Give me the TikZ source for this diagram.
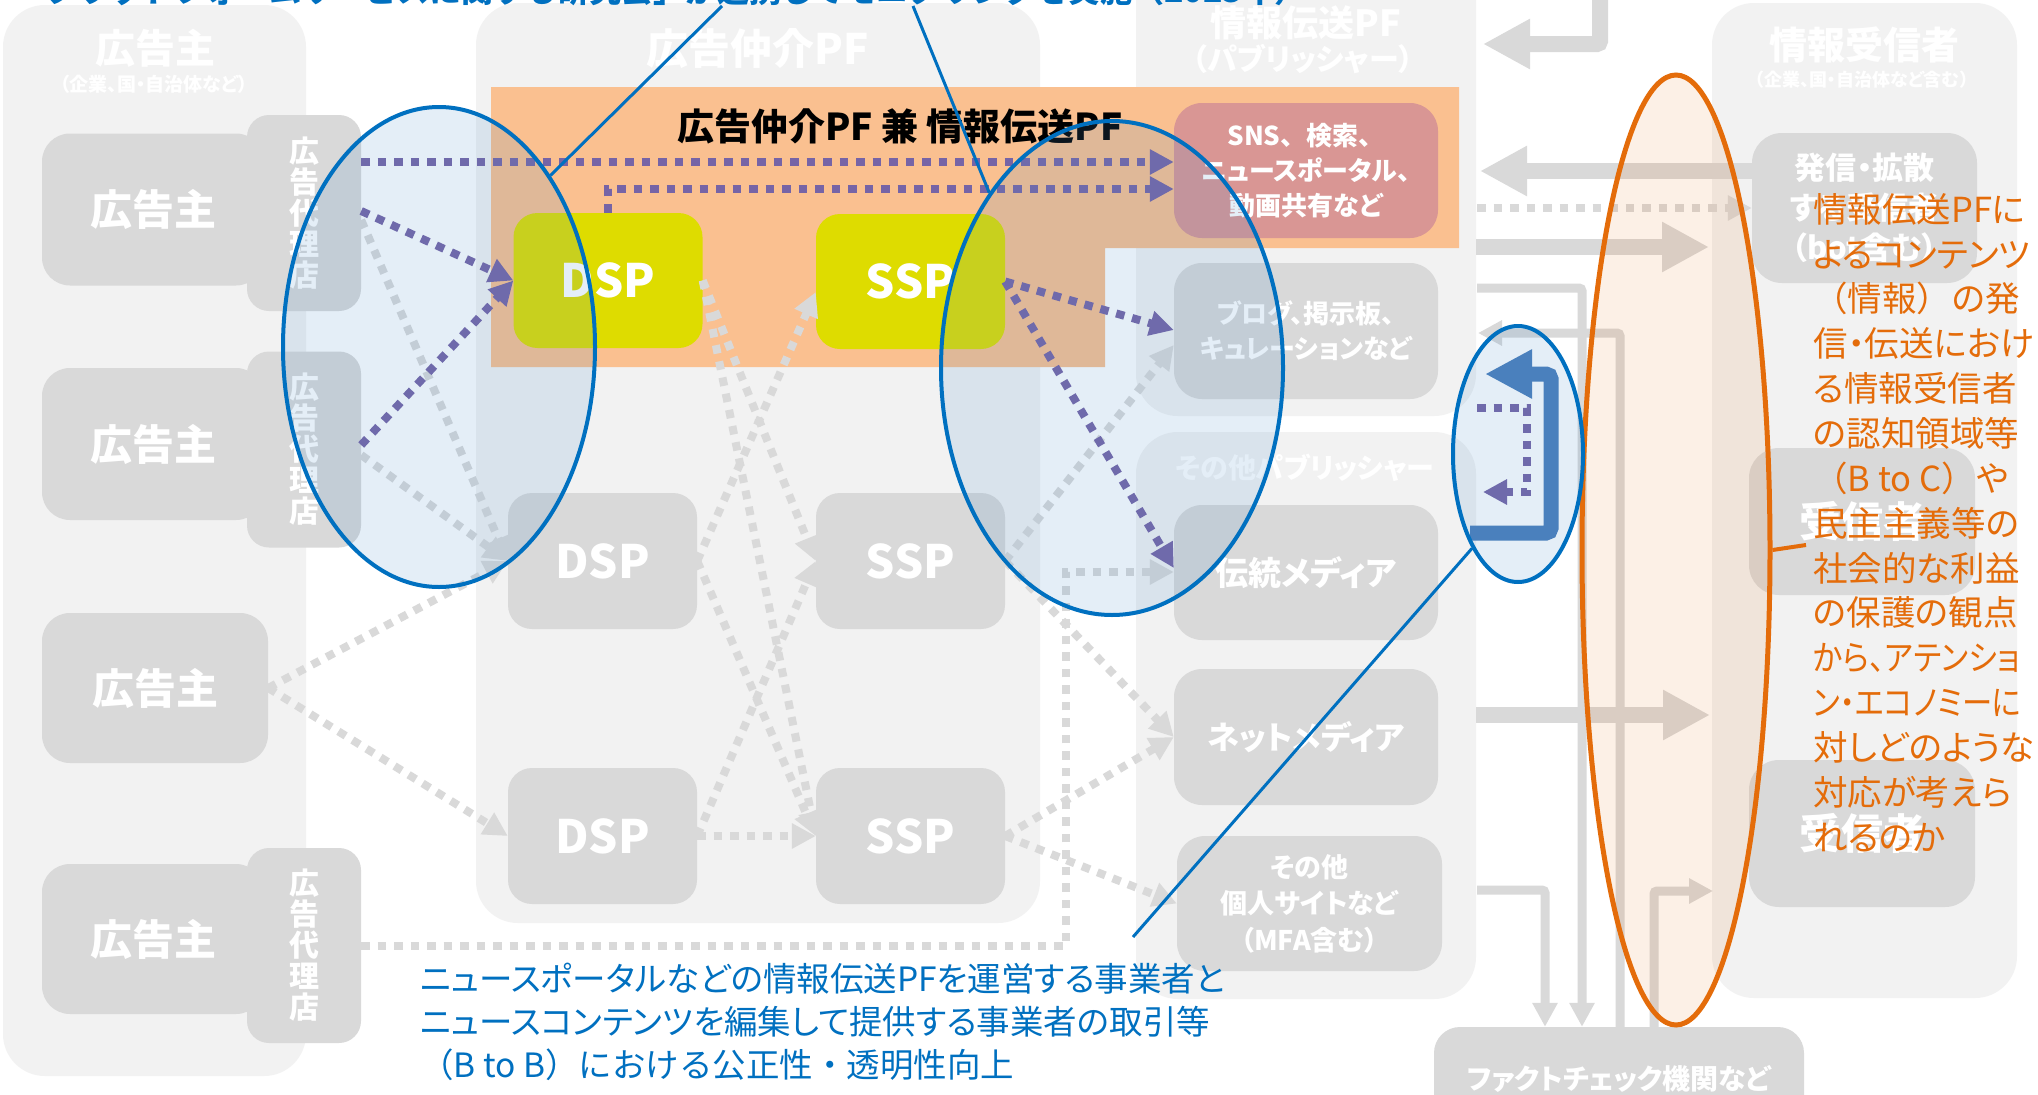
\documentclass[tikz,border=0pt]{standalone}
\usepackage{fontspec}
\setmainfont{Noto Sans CJK JP}[RawFeature={+palt}]
\newfontfamily\jpfull{Noto Sans CJK JP}
\usetikzlibrary{arrows.meta,shapes.geometric}
\newcommand\jfs[2]{\fontsize{#1}{#2}\selectfont}
\definecolor{panelgray}{HTML}{F2F2F2}
\definecolor{boxgray}{HTML}{D9D9D9}
\definecolor{dspyellow}{HTML}{DEDC00}
\definecolor{peach}{HTML}{FAC090}
\definecolor{snspink}{HTML}{D99694}
\definecolor{lineblue}{HTML}{0070C0}
\definecolor{ellblue}{HTML}{4B8ECA}
\definecolor{purp}{HTML}{7664A6}
\definecolor{arrblue}{HTML}{4A7EBB}
\definecolor{orng}{HTML}{E46C0A}
\begin{document}
\begin{tikzpicture}[x=1pt,y=-1pt,
 panel/.style={fill=panelgray,rounded corners=42pt},
 gbox/.style={fill=boxgray,rounded corners=26pt,inner sep=0pt,text=white,align=center},
 adv/.style={gbox,rounded corners=28pt,minimum width=222pt,minimum height=152pt,font=\bfseries\jfs{42}{42}},
 tabbox/.style={gbox,rounded corners=22pt,minimum width=114pt,minimum height=196pt,font=\bfseries\jfs{30}{31}},
 ybox/.style={gbox,fill=dspyellow,rounded corners=24pt,minimum width=189pt,minimum height=135pt,font=\bfseries\jfs{46}{46}},
 pbox/.style={gbox,rounded corners=24pt,minimum width=189pt,minimum height=136pt,font=\bfseries\jfs{46}{46}},
 pubbox/.style={gbox,rounded corners=28pt,minimum width=264pt,minimum height=136pt},
 rbox/.style={gbox,rounded corners=30pt,minimum width=226pt,minimum height=148pt},
 ttl/.style={text=white,inner sep=0pt,align=center},
 dotline/.style={line width=8pt,dash pattern=on 8.5pt off 8pt,-{Triangle[length=24pt,width=24pt]}},
 gdot/.style={dotline,draw=boxgray},
 pdot/.style={dotline,draw=purp},
 garrow/.style={draw=boxgray,line width=16pt,-{Triangle[length=47pt,width=47pt]}},
 gthin/.style={draw=boxgray,line width=9pt,rounded corners=3pt,-{Triangle[length=24pt,width=24pt]}},
 barrow/.style={draw=arrblue,line width=15pt,rounded corners=5pt,-{Triangle[length=47pt,width=46pt]}},
 ell/.style={ellipse,draw=lineblue,line width=4pt,fill=ellblue,fill opacity=0.15,inner sep=0pt},
 oell/.style={ellipse,draw=orng,line width=5pt,fill=orng,fill opacity=0.1,inner sep=0pt},
 aline/.style={draw=lineblue,line width=3pt},
]
\useasboundingbox (0,0) rectangle (2038,1095);
\clip (0,0) rectangle (2038,1095);
\fill[white] (0,0) rectangle (2038,1095);

% ---------- panels ----------
\fill[panel] (3,5) rectangle (306,1076);
\fill[panel] (476,3) rectangle (1040,923);
\fill[panel] (1136,-50) rectangle (1476,416);
\fill[panel] (1136,432) rectangle (1476,999);
\fill[panel] (1712,3) rectangle (2017,998);

\node[ttl,font=\bfseries\jfs{40}{40}] (hA) at (155,48) {広告主};
\node[ttl,font=\bfseries\jfs{19}{19}] (hAs) at (154,84) {（企業、国・自治体など）};
\node[ttl,font=\bfseries\jfs{42}{42}] (hB) at (758,48) {広告仲介PF};
\node[ttl,font=\bfseries\jfs{36}{36}] (hC) at (1306,23) {情報伝送PF};
\node[ttl,font=\bfseries\jfs{30}{30}] (hCs) at (1303,59) {（パブリッシャー）};
\node[ttl,font=\bfseries\jfs{28}{28}] (hD) at (1305,468) {その他パブリッシャー};
\node[ttl,font=\bfseries\jfs{38}{38}] (hE) at (1864,45) {情報受信者};
\node[ttl,font=\bfseries\jfs{18}{18}] (hEs) at (1862,80) {（企業、国・自治体など含む）};

% ---------- orange region ----------
\fill[peach] (491,87) -- (1459,87) -- (1459,248) -- (1105,248) -- (1105,367) -- (491,367) -- cycle;
\node[inner sep=0pt,font=\bfseries\jfs{37}{37}] (hO) at (900,126) {広告仲介PF 兼 情報伝送PF};

% ---------- advertisers ----------
\node[adv] (a1) at (153,209.5) {広告主};
\node[tabbox] (t1) at (304,213) {広\\告\\代\\理\\店};
\node[adv] (a2) at (153,444) {広告主};
\node[tabbox] (t2) at (304,449.5) {広\\告\\代\\理\\店};
\node[adv,minimum width=226pt,minimum height=150pt] (a3) at (155,688) {広告主};
\node[adv,minimum height=150pt] (a4) at (153,939) {広告主};
\node[tabbox,minimum height=195pt] (t4) at (304,945.5) {広\\告\\代\\理\\店};

% ---------- DSP / SSP ----------
\node[ybox] (d1) at (608,280.5) {DSP};
\node[ybox] (s1) at (910.5,281.5) {SSP};
\node[pbox] (d2) at (602.5,561) {DSP};
\node[pbox] (s2) at (910.5,561) {SSP};
\node[pbox] (d3) at (602.5,836) {DSP};
\node[pbox] (s3) at (910.5,836) {SSP};

% ---------- publishers ----------
\node[pubbox,fill=snspink,minimum height=135pt,font=\bfseries\jfs{26}{35}] (sns) at (1306,170.5) {SNS{\jpfull 、}検索{\jpfull 、}\\ニュースポータル、\\動画共有など};
\node[pubbox,font=\bfseries\jfs{26}{35}] (blog) at (1306,331) {ブログ、掲示板、\\キュレーションなど};
\node[pubbox,minimum height=135pt,font=\bfseries\jfs{33}{33}] (trad) at (1306,572.5) {伝統メディア};
\node[pubbox,font=\bfseries\jfs{32}{32}] (net) at (1306,737) {ネットメディア};
\node[pubbox,minimum width=265pt,minimum height=135pt,font=\bfseries\jfs{27}{36.5}] (oth) at (1309.5,903.5) {その他\\個人サイトなど\\（MFA含む）};

% ---------- receivers ----------
\node[rbox,minimum width=225pt,minimum height=150pt,font=\bfseries\jfs{31}{40}] (hs) at (1864.5,208) {発信・拡散\\する受信者\\（bot含む）};
\node[rbox,minimum height=147pt,font=\bfseries\jfs{42}{42}] (r2) at (1862,521.5) {受信者};
\node[rbox,minimum height=147pt,font=\bfseries\jfs{42}{42}] (r3) at (1862,833.5) {受信者};
\node[gbox,minimum width=370pt,minimum height=103pt,font=\bfseries\jfs{28}{28}] (fc) at (1619,1078.5) {ファクトチェック機関など};

% ---------- coordinates ----------
\coordinate (ga0) at (1600,-20);
\coordinate (ga1) at (1600,44);
\coordinate (ga2) at (1483,44);
\coordinate (gb1) at (1480,171);
\coordinate (gc0) at (1476,247);
\coordinate (gc1) at (1709,247);
\coordinate (gd0) at (1477,208);
\coordinate (ge0) at (1476,715);
\coordinate (ge1) at (1710,715);
\coordinate (gf0) at (1477,288);
\coordinate (gg0) at (1477,890);
\coordinate (gh1) at (1478,333);
\coordinate (gi1) at (1713,891);
\coordinate (gk1) at (1066,946);
\coordinate (gk2) at (1066,572);
\coordinate (pd0) at (1477,408);
\coordinate (pd1) at (1527,408);
\coordinate (pd2) at (1527,492);
\coordinate (pd3) at (1483,492);
\coordinate (ba0) at (1470,533);
\coordinate (ba1) at (1551,533);
\coordinate (ba2) at (1551,374);
\coordinate (ba3) at (1485,374);

% ---------- gray dotted ----------
\draw[gdot] (t1.east |- 0,220) -- (d2.west);
\draw[gdot] (t2.east |- 0,455) -- (d2.west);
\draw[gdot] (a3.east) -- (d2.west);
\draw[gdot] (a3.east) -- (d3.west);
\draw[gdot] (t4.east |- 0,946) -- (gk1) -- (gk2) -- (trad.west |- 0,572);
\draw[gdot] (d1.east) -- (s2.west);
\draw[gdot] (d1.east) -- (s3.west);
\draw[gdot] (d2.east) -- (s1.west |- 0,292);
\draw[gdot] (d2.east) -- (s3.west);
\draw[gdot] (d3.east) -- (s2.west);
\draw[gdot] (d3.east) -- (s3.west);
\draw[gdot] (s2.east) -- (blog.west |- 0,345);
\draw[gdot] (s2.east) -- (net.west);
\draw[gdot] (s3.east) -- (net.west);
\draw[gdot] (s3.east) -- (oth.west);
\draw[gdot] (gd0) -- (hs.west |- 0,208);

% ---------- gray solid arrows ----------
\draw[garrow,rounded corners=3pt] (ga0) -- (ga1) -- (ga2);
\draw[garrow] (hs.west |- 0,171) -- (gb1);
\draw[garrow] (gc0) -- (gc1);
\draw[garrow] (ge0) -- (ge1);
\draw[gthin] (gf0) -| (fc.north -| 1582,0);
\draw[gthin] (gg0) -| (fc.north -| 1545,0);
\draw[gthin] (fc.north -| 1620,0) |- (gh1);
\draw[gthin] (fc.north -| 1654,0) |- (gi1);

% ---------- purple ----------
\draw[pdot] (t1.east |- 0,162) -- (sns.west |- 0,162);
\draw[pdot] (d1.north) |- (sns.west |- 0,189);
\draw[pdot] (t1.east |- 0,211) -- (d1.west);
\draw[pdot] (t2.east |- 0,445) -- (d1.west);
\draw[pdot] (s1.east) -- (blog.west |- 0,330);
\draw[pdot] (s1.east) -- (trad.west |- 0,568);
\draw[barrow] (ba0) -- (ba1) -- (ba2) -- (ba3);
\draw[pdot] (pd0) -- (pd1) -- (pd2) -- (pd3);

% ---------- ellipses ----------
\node[oell,minimum width=188pt,minimum height=950pt] (e4) at (1676,550) {};
\node[ell,minimum width=312pt,minimum height=480pt] (e1) at (439,347) {};
\node[ell,minimum width=342pt,minimum height=494pt] (e2) at (1112,368) {};
\node[ell,minimum width=130pt,minimum height=256pt] (e3) at (1518,454) {};

% ---------- annotations ----------
\coordinate (c1) at (722,6);
\coordinate (c2) at (913,6);
\coordinate (c3) at (1133,937);
\coordinate (ol1) at (1806,545);
\draw[aline] (c1) -- (e1.57);
\draw[aline] (c2) -- (e2.125);
\draw[aline] (e3.244) -- (c3);
\draw[draw=orng,line width=4pt] (e4.0) -- (ol1);

\node[anchor=base,inner sep=0pt,text=lineblue,font=\jpfull\bfseries\jfs{32}{32}] (ttxt) at (660,2) {「プラットフォームサービスに関する研究会」が連携してモニタリングを実施（2023年）};
\node[anchor=north west,inner sep=0pt,align=left,text=lineblue,font=\jfs{33.5}{43}] (btxt) at (420,963) {ニュースポータルなどの情報伝送PFを運営する事業者と\\ニュースコンテンツを編集して提供する事業者の取引等\\{\jpfull （B to B）における公正性・透明性向上}};
\node[anchor=north west,inner sep=0pt,align=left,text=orng,font=\jfs{34.5}{44.86}] (otxt) at (1813,193) {情報伝送PFに\\よるコンテンツ\\{\jpfull （情報）の発}\\信・伝送におけ\\る情報受信者\\の認知領域等\\{\jpfull （B to C）や}\\民主主義等の\\社会的な利益\\の保護の観点\\\scalebox{0.89}[1]{から、アテンショ}\\\scalebox{0.88}[1]{ン・エコノミーに}\\対しどのような\\対応が考えら\\れるのか};
\end{tikzpicture}
\end{document}
